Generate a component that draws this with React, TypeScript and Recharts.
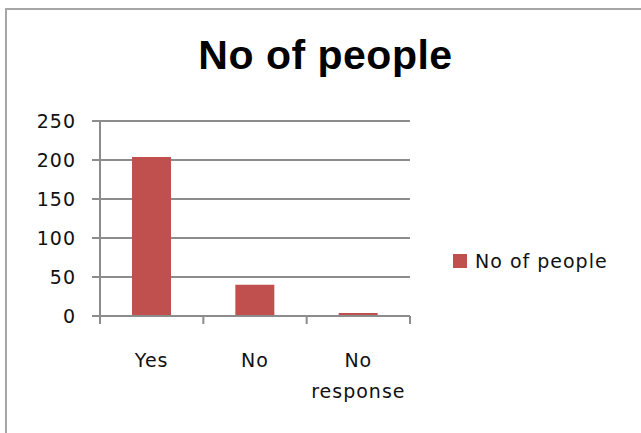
import { Bar, BarChart, CartesianGrid, Legend, XAxis, YAxis } from 'recharts'

const categories = ['Yes', 'No', 'No response']
const people = [204, 40, 4]
const yTicks = [0, 50, 100, 150, 200, 250]

const rows = categories.map((name, i) => ({ name, people: people[i] }))

const font = '"DejaVu Sans", sans-serif'
const grey = '#8c8c8c'
const barColor = '#C0504D'
const band = 310 / 3

function CategoryTick(props: any) {
  const { x, y, payload, index } = props
  const lines = String(payload.value).split(' ')
  const left = x - band / 2
  return (
    <g>
      <line x1={left} x2={left} y1={y} y2={y + 8} stroke={grey} strokeWidth={2} />
      {index === categories.length - 1 && (
        <line x1={x + band / 2} x2={x + band / 2} y1={y} y2={y + 8} stroke={grey} strokeWidth={2} />
      )}
      <text x={x} y={y + 51} textAnchor="middle" fontFamily={font} fontSize={19} letterSpacing={1} fill="#111">
        {lines.map((l, i) => (
          <tspan key={i} x={x} dy={i === 0 ? 0 : 31}>
            {l}
          </tspan>
        ))}
      </text>
    </g>
  )
}

function LegendBox() {
  return (
    <div style={{ display: 'flex', alignItems: 'center', paddingLeft: 43, fontFamily: font, fontSize: 19, letterSpacing: 1, color: '#111' }}>
      <span style={{ width: 14, height: 14, background: barColor, marginRight: 8, display: 'inline-block' }} />
      No of people
    </div>
  )
}

export default function App() {
  return (
    <div style={{ position: 'fixed', left: 0, top: 0, width: 641, height: 433, overflow: 'hidden', background: '#fff' }}>
      <div
        style={{
          position: 'absolute',
          left: 5,
          top: 8,
          width: 700,
          height: 500,
          borderLeft: '2px solid #a6a6a6',
          borderTop: '2px solid #a6a6a6',
        }}
      />
      <div
        style={{
          position: 'absolute',
          left: 0,
          width: 641,
          top: 32,
          textAlign: 'center',
          fontFamily: '"Liberation Sans", Arial, sans-serif',
          fontWeight: 'bold',
          fontSize: 41,
          letterSpacing: 0.5,
          color: '#000',
          paddingLeft: 5,
        }}
      >
        No of people
      </div>
      <div style={{ position: 'absolute', left: 0, top: 0 }}>
        <BarChart width={641} height={433} data={rows} margin={{ top: 121, right: 0, bottom: 57, left: 0 }} barSize={39}>
          <CartesianGrid vertical={false} stroke={grey} strokeWidth={2} strokeDasharray="" />
          <XAxis
            dataKey="name"
            height={60}
            axisLine={{ stroke: grey, strokeWidth: 2 }}
            tickLine={false}
            tickSize={0}
            tickMargin={0}
            interval={0}
            tick={<CategoryTick />}
          />
          <YAxis
            width={100}
            domain={[0, 250]}
            ticks={yTicks}
            interval={0}
            axisLine={{ stroke: grey, strokeWidth: 2 }}
            tickLine={{ stroke: grey, strokeWidth: 2 }}
            tickSize={8}
            tickMargin={16}
            tick={{ fontFamily: font, fontSize: 19, fill: '#111', letterSpacing: 1 }}
          />
          <Legend
            layout="vertical"
            align="right"
            verticalAlign="top"
            wrapperStyle={{ width: 231, top: 250, right: 0 }}
            content={() => <LegendBox />}
          />
          <Bar dataKey="people" fill={barColor} isAnimationActive={false} />
        </BarChart>
      </div>
    </div>
  )
}
